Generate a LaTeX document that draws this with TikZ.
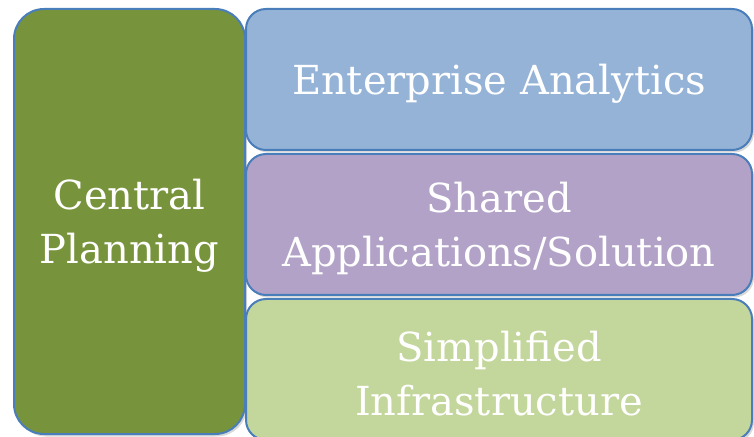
\documentclass[tikz,border=0pt]{standalone}
\usepackage{fontspec}
\setmainfont{DejaVu Serif}
\usetikzlibrary{positioning, shadows}
\definecolor{planGreen}{HTML}{77933C}
\definecolor{analyticsBlue}{HTML}{95B3D7}
\definecolor{sharedPurple}{HTML}{B2A2C7}
\definecolor{infraGreen}{HTML}{C3D69B}
\definecolor{edgeBlue}{HTML}{4A7EBB}
\tikzset{
	every text node part/.style= {
		align=center
	},
	block/.style= {
		rectangle,
		draw=edgeBlue,
		line width=2pt,
		rounded corners=20pt,
		inner sep=0pt,
		drop shadow={shadow xshift=2pt, shadow yshift=-2.5pt, fill=black!30}
	},
	caption/.style= {
		text=white,
		inner sep=0pt,
		yshift=-4pt,
		font={\fontsize{40}{54}\selectfont}
	},
	layer/.style= {
		block,
		minimum width=506pt,
		minimum height=141pt
	},
}

\begin{document}
\begin{tikzpicture}[x=1pt, y=1pt]
	\useasboundingbox (0,0) rectangle (754,436);

	\node (planning) [block, rounded corners=30pt, fill=planGreen, minimum width=231pt, minimum height=425pt,
		label={[caption]center:Central\\Planning}] at (129.5,214.5) {};

	\node (analytics) [layer, fill=analyticsBlue, label={[caption]center:Enterprise Analytics}] at (499,356.5) {};
	\node (shared) [layer, fill=sharedPurple, below=2pt of analytics,
		label={[caption]center:Shared\\Applications/Solution}] {};
	\node (infra) [layer, fill=infraGreen, below=2pt of shared,
		label={[caption]center:Simplified\\Infrastructure}] {};
\end{tikzpicture}
\end{document}
